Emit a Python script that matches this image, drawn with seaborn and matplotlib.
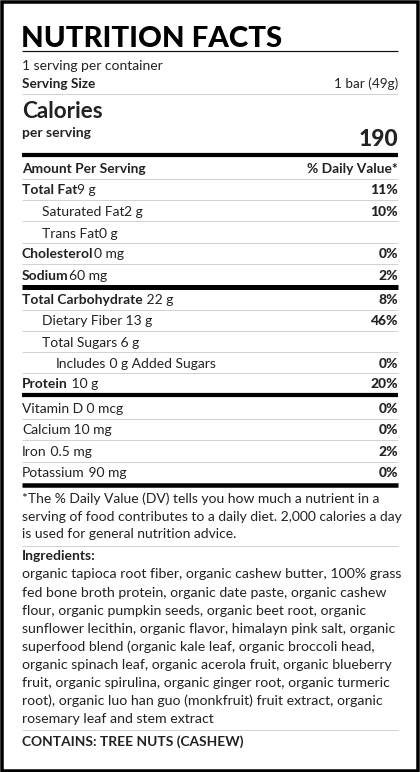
import matplotlib
matplotlib.use("Agg")
import matplotlib.pyplot as plt
import seaborn as sns
from matplotlib.patches import Rectangle

# ---------------- data ----------------
title = "NUTRITION FACTS"
servings_text = "1 serving per container"
serving_size_label = "Serving Size"
serving_size_value = "1 bar (49g)"
calories_label = "Calories"
calories_sub = "per serving"
calories_value = 190

nutrient_names = ["Total Fat", "Saturated Fat", "Trans Fat", "Cholesterol", "Sodium",
                  "Total Carbohydrate", "Dietary Fiber", "Total Sugars", "Includes",
                  "Protein", "Vitamin D", "Calcium", "Iron", "Potassium"]
nutrient_amounts = ["9 g", "2 g", "0 g", "0 mg", "60 mg", " 22 g", " 13 g", " 6 g",
                    " 0 g Added Sugars", " 10 g", " 0 mcg", " 10 mg", " 0.5 mg", " 90 mg"]
nutrient_dv = ["11%", "10%", "", "0%", "2%", "8%", "46%", "", "0%", "20%",
               "0%", "0%", "2%", "0%"]
nutrient_indent = [0, 1, 1, 0, 0, 0, 1, 1, 2, 0, 0, 0, 0, 0]
nutrient_bold = [True, False, False, True, True, True, False, False, False, True,
                 False, False, False, False]

footnote_lines = ["*The % Daily Value (DV) tells you how much a nutrient in a",
                  "serving of food contributes to a daily diet. 2,000 calories a day",
                  "is used for general nutrition advice."]
ingredients_title = "Ingredients:"
ingredient_lines = [
    "organic tapioca root fiber, organic cashew butter, 100% grass",
    "fed bone broth protein, organic date paste, organic cashew",
    "flour, organic pumpkin seeds, organic beet root, organic",
    "sunflower lecithin, organic flavor, himalayn pink salt, organic",
    "superfood blend (organic kale leaf, organic broccoli head,",
    "organic spinach leaf, organic acerola fruit, organic blueberry",
    "fruit, organic spirulina, organic ginger root, organic turmeric",
    "root), organic luo han guo (monkfruit) fruit extract, organic",
    "rosemary leaf and stem extract",
]
contains_text = "CONTAINS: TREE NUTS (CASHEW)"

# ---------------- layout ----------------
sns.set_theme(style="white")
plt.rcParams["font.family"] = ["Lato", "DejaVu Sans"]

W, H = 420, 772
fig = plt.figure(figsize=(W / 100, H / 100), dpi=100)
fig.patch.set_facecolor("white")
ax = fig.add_axes([0, 0, 1, 1])
ax.set_xlim(0, W)
ax.set_ylim(H, 0)
ax.axis("off")

PX = 0.72  # px -> pt
TXT = "#222222"
LX, RX = 22, 398
BODY = 10.0

renderer = fig.canvas.get_renderer()


def width_data(t):
    bb = t.get_window_extent(renderer=renderer)
    return bb.width  # 1 data unit == 1 px in x


def hline(y, lw_px=1, color="#d2d2d2"):
    ax.plot([LX, RX], [y, y], color=color, lw=lw_px * PX, solid_capstyle="butt")


# border
ax.add_patch(Rectangle((1.75, 1.5), W - 3.5, H - 3.0, fill=False,
                       ec="black", lw=3.5 * PX))

# title
ax.text(LX - 1, 47, title, fontsize=21.2, fontweight="black", color="black",
        va="baseline", ha="left")
hline(50.5, 1.2, "#111111")

ax.text(LX, 70, servings_text, fontsize=BODY, color=TXT, va="baseline")
ax.text(LX, 88.5, serving_size_label, fontsize=BODY - 0.2, fontweight="bold",
        color=TXT, va="baseline")
ax.text(RX, 88.5, serving_size_value, fontsize=BODY - 0.3, color=TXT,
        va="baseline", ha="right")
hline(93.5, 1)

ax.text(LX, 118, calories_label, fontsize=16.2, fontweight="bold", color=TXT,
        va="baseline")
ax.text(LX, 137, calories_sub, fontsize=BODY, fontweight="bold", color=TXT,
        va="baseline")
ax.text(RX, 146.5, str(calories_value), fontsize=16.4, fontweight="black", color=TXT,
        va="baseline", ha="right")
hline(155.3, 4.2, "black")

ax.text(LX, 173, "Amount Per Serving", fontsize=BODY - 0.1, fontweight="bold",
        color=TXT, va="baseline")
ax.text(RX, 173, "% Daily Value*", fontsize=BODY - 0.1, fontweight="bold",
        color=TXT, va="baseline", ha="right")
hline(178.5, 1)

row_base = [194, 216, 238, 258.5, 280, 304, 325, 347, 367.5, 388,
            413, 434, 456.5, 477]
row_line = [199.5, 221, 242.5, 263.5, 286.5, 309.5, 331, 352, 372.5, 395,
            418.5, 439.5, 462, 485]
row_line_w = [1, 1, 1, 1, 5, 1, 1, 1, 1, 4.2, 1, 1, 1, 4.5]
indent_px = [0, 20, 34]

for i, name in enumerate(nutrient_names):
    y = row_base[i]
    x0 = LX + indent_px[nutrient_indent[i]]
    t = ax.text(x0, y, name, fontsize=BODY, color=TXT, va="baseline",
                fontweight="bold" if nutrient_bold[i] else "normal")
    w = width_data(t)
    ax.text(x0 + w, y, nutrient_amounts[i], fontsize=BODY, color=TXT,
            va="baseline")
    if nutrient_dv[i]:
        ax.text(RX, y, nutrient_dv[i], fontsize=BODY, fontweight="black",
                color=TXT, va="baseline", ha="right")
    lw = row_line_w[i]
    hline(row_line[i], lw, "black" if lw > 2 else "#d2d2d2")

for k, line in enumerate(footnote_lines):
    ax.text(LX, 503 + k * 17.6, line, fontsize=BODY, color=TXT, va="baseline")
hline(545.5, 1)

ax.text(LX, 560, ingredients_title, fontsize=BODY, fontweight="bold",
        color=TXT, va="baseline")
for k, line in enumerate(ingredient_lines):
    ax.text(LX, 578.5 + k * 18.1, line, fontsize=BODY + 0.2, color=TXT,
            va="baseline")
hline(729.5, 1)
ax.text(LX, 745.5, contains_text, fontsize=BODY - 0.1, fontweight="bold", color=TXT,
        va="baseline")

fig.savefig("out.png", dpi=100)
